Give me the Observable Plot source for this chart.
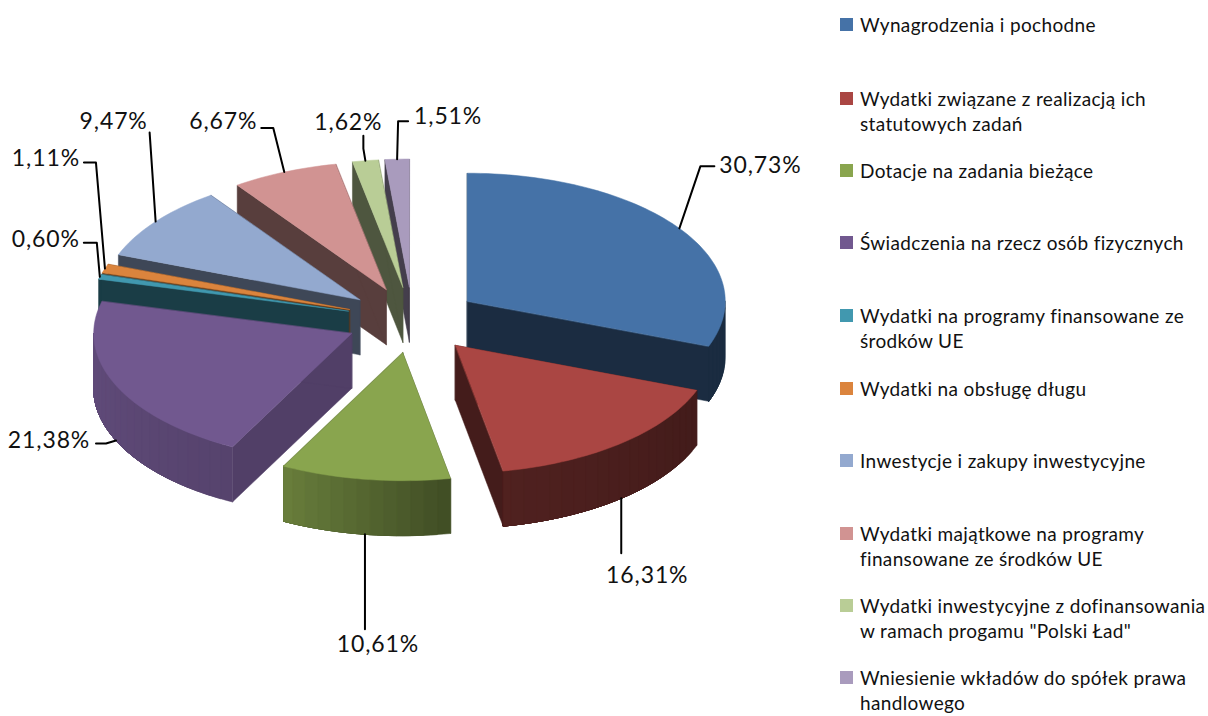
<!DOCTYPE html>
<html lang="pl">
<head>
<meta charset="utf-8">
<script src="https://cdn.jsdelivr.net/npm/d3@7"></script>
<script src="https://cdn.jsdelivr.net/npm/@observablehq/plot@0.6"></script>
<style>
  html, body { margin: 0; padding: 0; background: #fff; }
  #wrap { position: relative; width: 1208px; height: 716px; overflow: hidden; }
  #chart text { letter-spacing: 0.9px; }
  #legend { position: absolute; left: 840px; top: 0; width: 368px; height: 716px;
            font-family: Lato, sans-serif; font-size: 19px; letter-spacing: 0.35px; line-height: 25px; color: #111; }
  .row { position: absolute; left: 0; display: flex; align-items: flex-start; width: 368px; }
  .sw { width: 13px; height: 13px; margin-top: 6px; flex: none; }
  .tx { margin-left: 7px; white-space: pre-line; }
</style>
</head>
<body>
<div id="wrap"><div id="chart"></div><div id="legend"></div></div>
<script>
// DATA
const categories = [
  "Wynagrodzenia i pochodne",
  "Wydatki związane z realizacją ich\nstatutowych zadań",
  "Dotacje na zadania bieżące",
  "Świadczenia na rzecz osób fizycznych",
  "Wydatki na programy finansowane ze\nśrodków UE",
  "Wydatki na obsługę długu",
  "Inwestycje i zakupy inwestycyjne",
  "Wydatki majątkowe na programy\nfinansowane ze środków UE",
  "Wydatki inwestycyjne z dofinansowania\nw ramach progamu \"Polski Ład\"",
  "Wniesienie wkładów do spółek prawa\nhandlowego"
];
const values = [30.73, 16.31, 10.61, 21.38, 0.60, 1.11, 9.47, 6.67, 1.62, 1.51];
const colors = ["#4572A7", "#AA4643", "#89A54E", "#71588F", "#4198AF",
                "#DB843D", "#93A9CF", "#D19392", "#B9CD96", "#A99BBD"];

// STYLE / LAYOUT
const sideShade = [0.39, 0.40, 0.45, 0.72, 0.40, 0.45, 0.42, 0.42, 0.42, 0.40];
const drawOrder = [9, 8, 7, 6, 5, 4, 3, 2, 0, 1];
const explode = 0.258, depth = 0.43;
const legendTops = [24, 98, 170, 242, 315, 388, 460, 533, 605, 677];
// leader shape and label position, as pixel offsets from each slice's rim anchor
const leaderLayout = [
  {front: false, elbow: [21, -62],  end: [35, -62],  text: [81, -63]},
  {front: true,  elbow: [0, 30],    end: [0, 55],    text: [26, 77]},
  {front: true,  elbow: [0, 50],    end: [0, 95],    text: [13, 110]},
  {front: true,  elbow: [-10, 3],   end: [-20, 3],   text: [-67, 0]},
  {front: false, elbow: [-3, -34],  end: [-16, -34], text: [-54, -37]},
  {front: false, elbow: [-9, -106], end: [-21, -106], text: [-59, -110]},
  {front: false, elbow: [-3, -45],  end: [-6, -89],  text: [-42, -100]},
  {front: false, elbow: [-11, -44], end: [-23, -44], text: [-61, -50]},
  {front: false, elbow: [-2, -12],  end: [-2, -25],  text: [-17, -38]},
  {front: false, elbow: [1, -38],   end: [11, -38],  text: [51, -43]}
];
const pxX = 258, pxY = 128;

const total = d3.sum(values);
const rad = Math.PI / 180;
const outerShade = d3.scaleLinear().domain([90, 110, 170, 207, 270]).range([0.39, 0.39, 0.47, 0.76, 0.86]).clamp(true);

let cum = 0;
const slices = values.map((v, i) => {
  const a0 = cum / total * 360; cum += v;
  const a1 = cum / total * 360, mid = (a0 + a1) / 2;
  return {i, a0, a1, mid, ox: explode * Math.sin(mid * rad), oy: explode * Math.cos(mid * rad)};
});
const rim = (s, a, z = 0) => [s.ox + Math.sin(a * rad), s.oy + Math.cos(a * rad) - z];
const apex = (s, z = 0) => [s.ox, s.oy - z];
const shadeOf = (c, k) => { const r = d3.rgb(c); return d3.rgb(r.r * k, r.g * k, r.b * k).formatHex(); };

const polys = [];
let pid = 0;
function addPoly(pts, color) { pid++; pts.forEach(p => polys.push({id: pid, x: p[0], y: p[1], color})); }
for (const i of drawOrder) {
  const s = slices[i], wall = shadeOf(colors[i], sideShade[i]);
  addPoly([apex(s), rim(s, s.a0), rim(s, s.a0, depth), apex(s, depth)], wall);
  addPoly([apex(s), rim(s, s.a1), rim(s, s.a1, depth), apex(s, depth)], wall);
  const steps = d3.range(s.a0, s.a1, 1.5).concat([s.a1]);
  // rim wall: only the part facing the viewer; each band runs to the slice's far end so no seams show
  const front = d3.range(Math.max(s.a0, 90), Math.min(s.a1, 270), 3);
  if (s.a0 < 270 && s.a1 > 90) {
    const hi = Math.min(s.a1, 270);
    front.forEach(a => {
      const arc = d3.range(a, hi, 1.5).concat([hi]);
      addPoly([...arc.map(t => rim(s, t)), ...arc.slice().reverse().map(t => rim(s, t, depth))],
              shadeOf(colors[i], outerShade(a + 1.5)));
    });
  }
  addPoly([apex(s), ...steps.map(a => rim(s, a))], colors[i]);
}

const leaders = [], labels = [];
slices.forEach(s => {
  const l = leaderLayout[s.i];
  const an = rim(s, s.mid, l.front ? depth : 0);
  const off = o => [an[0] + o[0] / pxX, an[1] - o[1] / pxY];
  [an, off(l.elbow), off(l.end)].forEach(p => leaders.push({id: s.i, x: p[0], y: p[1]}));
  const t = off(l.text);
  labels.push({x: t[0], y: t[1], label: d3.format(".2f")(values[s.i]).replace(".", ",") + "%"});
});

const plot = Plot.plot({
  width: 830, height: 716, margin: 0,
  x: {domain: [-1, 1], range: [412 - pxX, 412 + pxX], axis: null},
  y: {domain: [-1, 1], range: [319.5 + pxY, 319.5 - pxY], axis: null},
  marks: [
    Plot.line(polys, {x: "x", y: "y", z: "id", fill: "color", stroke: "color", strokeWidth: 0.5, curve: "linear-closed"}),
    Plot.line(leaders, {x: "x", y: "y", z: "id", stroke: "#000", strokeWidth: 2}),
    Plot.text(labels, {x: "x", y: "y", text: "label", fontSize: 23, fontFamily: "Lato, sans-serif", fill: "#111"})
  ]
});
document.getElementById("chart").append(plot);

const legend = d3.select("#legend");
categories.forEach((c, i) => {
  const row = legend.append("div").attr("class", "row").style("top", (legendTops[i] - 12) + "px");
  row.append("span").attr("class", "sw").style("background", colors[i]);
  row.append("span").attr("class", "tx").text(c);
});
</script>
</body>
</html>
